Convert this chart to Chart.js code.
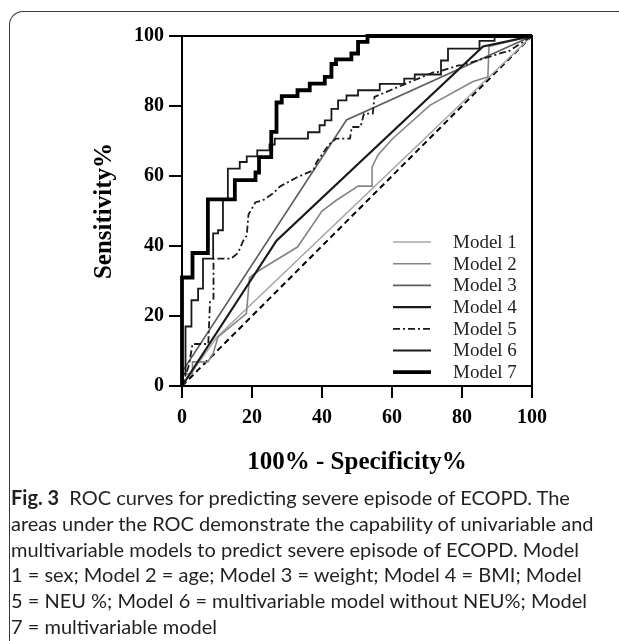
<!DOCTYPE html>
<html>
<head>
<meta charset="utf-8">
<script src="https://cdn.jsdelivr.net/npm/chart.js@4.4.0/dist/chart.umd.min.js"></script>
<style>
  html, body { margin: 0; padding: 0; background: #fff; }
  body { width: 619px; height: 641px; position: relative; overflow: hidden; }
  #frame { position: absolute; left: 9px; top: 11px; width: 700px; height: 700px;
    border-left: 1.5px solid #3a3a3a; border-top: 1.5px solid #3a3a3a; border-top-left-radius: 14px; }
  #wrap { position: absolute; left: 0; top: 0; width: 619px; height: 490px; }
  #caption { position: absolute; left: 11px; top: 485px; font-family: Lato, "Open Sans", sans-serif;
    font-size: 20px; line-height: 25.8px; color: #231f20; white-space: nowrap; }
  #caption b { font-weight: 700; margin-right: 5px; }
</style>
</head>
<body>
<div id="frame"></div>
<div id="wrap"><canvas id="roc" width="619" height="490"></canvas></div>
<div id="caption">
  <div><b>Fig. 3</b> ROC curves for predicting severe episode of ECOPD. The</div>
  <div>areas under the ROC demonstrate the capability of univariable and</div>
  <div>multivariable models to predict severe episode of ECOPD. Model</div>
  <div>1 = sex; Model 2 = age; Model 3 = weight; Model 4 = BMI; Model</div>
  <div>5 = NEU %; Model 6 = multivariable model without NEU%; Model</div>
  <div>7 = multivariable model</div>
</div>
<script>
// axis ticks
const tickValues = [0, 20, 40, 60, 80, 100];

// 100% - specificity (x) and sensitivity (y) for each model
const model1X = [0, 10, 100];
const model1Y = [0, 14, 100];

const model2X = [0, 0.5, 3, 3, 7.4, 8.9, 10.3, 18.4, 19.3, 22, 33, 40, 44, 50.3, 54.3, 54.3, 56, 60, 70.8, 83, 87.4, 87.7, 100];
const model2Y = [0, 3.5, 3.5, 6.9, 6.9, 9.3, 14, 20.7, 31, 33, 39.7, 50, 53, 57.1, 57.1, 62.5, 66, 70.5, 80.2, 86.9, 88.3, 97, 100];

const model3X = [0, 0, 47, 100];
const model3Y = [0, 4, 76, 100];

const model4X = [0, 27, 86, 100];
const model4Y = [0, 41.5, 97, 100];

const model5X = [0, 2, 3, 7.5, 8, 9, 9, 14, 16, 17.5, 18.5, 19, 21, 23, 26, 28, 33, 37.5, 38.5, 42, 44, 48, 48.5, 51, 52, 54.5, 55, 59.5, 72, 73, 79, 80, 92, 93, 100];
const model5Y = [0, 6, 12, 12, 24, 25, 36.4, 36.4, 38, 41.5, 43, 49, 52.5, 53, 55, 57, 59.7, 61.6, 64, 69, 70.7, 70.7, 74, 74, 77.8, 77.8, 82.6, 84.5, 89.7, 89.7, 91.6, 91.6, 95.4, 95.4, 100];

const model6X = [0, 0, 1, 1, 2.7, 2.7, 4.6, 4.6, 6, 6, 8.9, 8.9, 10.3, 10.3, 11.7, 11.7, 13.1, 13.1, 16.5, 16.5, 18.5, 18.5, 21.5, 21.5, 25, 25, 26.5, 26.5, 36, 36, 39.3, 39.3, 40.8, 40.8, 42.7, 42.7, 44.6, 44.6, 47, 47, 50.3, 50.3, 56.5, 56.5, 63.5, 63.5, 66.5, 66.5, 74, 74, 76, 76, 85, 85, 89.3, 89.3, 100];
const model6Y = [0, 3.5, 3.5, 17, 17, 24.5, 24.5, 27.8, 27.8, 36.4, 36.4, 43.6, 43.6, 44.5, 44.5, 53.3, 53.3, 62.1, 62.1, 64, 64, 65.6, 65.6, 67.3, 67.3, 69, 69, 70.7, 70.7, 72.5, 72.5, 74.5, 74.5, 75.9, 75.9, 79.2, 79.2, 81.6, 81.6, 83, 83, 84.5, 84.5, 86.3, 86.3, 87.8, 87.8, 89, 89, 93, 93, 96.4, 96.4, 98.6, 98.6, 100, 100];

const model7X = [0, 0, 3, 3, 7.4, 7.4, 15.1, 15.1, 21, 21, 22, 22, 25.5, 25.5, 27, 27, 28.5, 28.5, 33, 33, 36.5, 36.5, 40.8, 40.8, 42.7, 42.7, 44, 44, 48.4, 48.4, 50.3, 50.3, 53, 53, 100];
const model7Y = [0, 31, 31, 38, 38, 53.3, 53.3, 58.8, 58.8, 61, 61, 65.4, 65.4, 72.6, 72.6, 81, 81, 82.8, 82.8, 84.5, 84.5, 86.4, 86.4, 88.3, 88.3, 92, 92, 93.3, 93.3, 95, 95, 98.3, 98.3, 100, 100];

const refX = [0, 100];
const refY = [0, 100];

function pts(xs, ys) {
    return xs.map((x, i) => ({ x: x, y: ys[i] }));
}

const serif = '"Liberation Serif", "Times New Roman", serif';

// box top/right edges and the legend inside the plot
const frameAndLegend = {
    id: 'frameAndLegend',
    afterDatasetsDraw(chart) {
        const { ctx, chartArea: a } = chart;
        ctx.save();
        ctx.strokeStyle = '#000';
        ctx.lineWidth = 2;
        ctx.setLineDash([]);
        ctx.beginPath();
        ctx.moveTo(a.left, a.top);
        ctx.lineTo(a.right, a.top);
        ctx.lineTo(a.right, a.bottom);
        ctx.stroke();

        ctx.font = '19px ' + serif;
        ctx.textBaseline = 'middle';
        ctx.textAlign = 'left';
        let row = 0;
        chart.data.datasets.forEach(ds => {
            if (!ds.label) return;
            const y = a.bottom - 144 + row * 21.7;
            ctx.strokeStyle = ds.borderColor;
            ctx.lineWidth = ds.borderWidth;
            ctx.setLineDash(ds.borderDash || []);
            ctx.beginPath();
            ctx.moveTo(a.right - 139, y);
            ctx.lineTo(a.right - 101, y);
            ctx.stroke();
            ctx.fillStyle = '#222';
            ctx.fillText(ds.label, a.right - 79, y + 1);
            row++;
        });
        ctx.restore();
    }
};

function model(label, xs, ys, color, width, dash, order) {
    return {
        label: label,
        data: pts(xs, ys),
        borderColor: color,
        borderWidth: width,
        borderDash: dash,
        pointRadius: 0,
        tension: 0,
        fill: false,
        order: order,
        clip: 4
    };
}

new Chart(document.getElementById('roc'), {
    type: 'line',
    data: {
        datasets: [
            model('Model 1', model1X, model1Y, '#a8a8a8', 1.6, [], 7),
            model('Model 2', model2X, model2Y, '#858585', 1.6, [], 6),
            model('Model 3', model3X, model3Y, '#5e5e5e', 1.6, [], 5),
            model('Model 4', model4X, model4Y, '#1a1a1a', 2.2, [], 4),
            model('Model 5', model5X, model5Y, '#1a1a1a', 1.8, [7, 3, 2, 3], 3),
            model('Model 6', model6X, model6Y, '#1a1a1a', 1.8, [], 2),
            model('Model 7', model7X, model7Y, '#000000', 3.8, [], 1),
            model('', refX, refY, '#000000', 2, [6, 4], 8)
        ]
    },
    options: {
        responsive: false,
        animation: false,
        devicePixelRatio: 1,
        layout: { padding: { left: 0, top: 36, right: 87, bottom: 0 } },
        plugins: {
            legend: { display: false },
            tooltip: { enabled: false }
        },
        scales: {
            x: {
                type: 'linear',
                min: 0,
                max: 100,
                afterBuildTicks: s => { s.ticks = tickValues.map(v => ({ value: v })); },
                afterFit: s => { s.height = 104; },
                grid: { drawOnChartArea: false, drawTicks: true, tickLength: 12, color: '#000', lineWidth: 2 },
                border: { display: true, color: '#000', width: 2 },
                ticks: { color: '#000', padding: 8, maxRotation: 0, font: { family: serif, size: 20, weight: 'bold' } },
                title: {
                    display: true,
                    text: '100% - Specificity%',
                    color: '#000',
                    font: { family: serif, size: 25, weight: 'bold' },
                    padding: { top: 0, bottom: 12 }
                }
            },
            y: {
                type: 'linear',
                min: 0,
                max: 100,
                afterBuildTicks: s => { s.ticks = tickValues.map(v => ({ value: v })); },
                afterFit: s => { s.width = 182; },
                grid: { drawOnChartArea: false, drawTicks: true, tickLength: 13, color: '#000', lineWidth: 2 },
                border: { display: true, color: '#000', width: 2 },
                ticks: { color: '#000', padding: 5, font: { family: serif, size: 20, weight: 'bold' } },
                title: {
                    display: true,
                    text: 'Sensitivity%',
                    color: '#000',
                    font: { family: serif, size: 25, weight: 'bold' },
                    padding: { top: 90, bottom: 0 }
                }
            }
        }
    },
    plugins: [frameAndLegend]
});
</script>
</body>
</html>
